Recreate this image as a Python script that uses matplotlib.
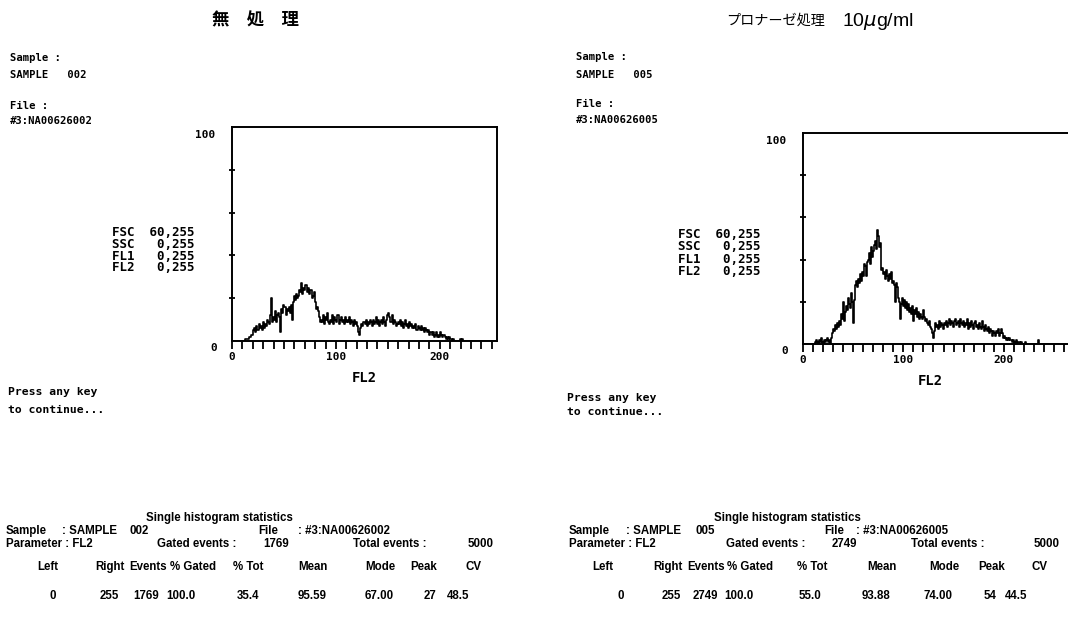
import numpy as np
import matplotlib
matplotlib.use("Agg")
import matplotlib.pyplot as plt

# ---------------- data ----------------
channels = np.arange(256)

# FL2 histogram counts per channel, untreated sample (SAMPLE 002)
counts_untreated = [
    0, 0, 0, 0, 0, 0, 0, 0, 0, 0, 0, 0, 0, 1, 1, 1,
    1, 2, 2, 3, 3, 5, 6, 4, 7, 5, 8, 6, 7, 5, 9, 6,
    8, 7, 10, 9, 8, 12, 20, 9, 11, 10, 14, 9, 12, 13, 11, 4,
    15, 13, 17, 16, 12, 15, 14, 16, 13, 17, 10, 18, 21, 19, 22, 20,
    21, 24, 23, 27, 22, 25, 24, 26, 26, 23, 25, 22, 24, 20, 21, 23,
    18, 15, 16, 14, 11, 9, 10, 9, 12, 8, 11, 10, 13, 9, 8, 10,
    9, 12, 8, 11, 10, 9, 12, 8, 10, 11, 9, 10, 8, 11, 9, 10,
    9, 11, 8, 10, 9, 7, 10, 8, 9, 7, 4, 3, 6, 8, 7, 9,
    8, 10, 7, 9, 8, 10, 9, 7, 10, 8, 9, 11, 8, 10, 7, 9,
    10, 8, 11, 9, 7, 10, 12, 13, 11, 9, 12, 8, 10, 9, 7, 8,
    9, 8, 10, 7, 9, 6, 8, 10, 7, 8, 6, 9, 7, 8, 6, 7,
    6, 8, 5, 7, 6, 5, 7, 5, 6, 4, 6, 5, 4, 5, 3, 4,
    4, 3, 4, 2, 3, 4, 2, 3, 2, 4, 3, 2, 3, 2, 1, 2,
    1, 2, 1, 1, 0, 1, 0, 0, 0, 0, 0, 0, 1, 0, 1, 0,
    0, 0, 0, 0, 0, 0, 0, 0, 0, 0, 0, 0, 0, 0, 0, 0,
    0, 0, 0, 0, 0, 0, 0, 0, 0, 0, 0, 0, 0, 0, 0, 0,
]

# FL2 histogram counts per channel, pronase 10 ug/ml (SAMPLE 005)
counts_pronase = [
    0, 0, 0, 0, 0, 0, 0, 0, 0, 0, 0, 0, 1, 2, 1, 0,
    2, 1, 3, 1, 0, 2, 1, 2, 3, 1, 2, 0, 3, 5, 7, 6,
    9, 7, 10, 8, 11, 9, 14, 12, 20, 11, 15, 18, 16, 22, 19, 17,
    24, 20, 10, 21, 28, 30, 27, 31, 29, 33, 30, 34, 32, 38, 37, 32,
    39, 40, 43, 38, 46, 41, 44, 47, 49, 45, 54, 51, 46, 48, 35, 36,
    33, 34, 31, 35, 32, 30, 33, 31, 34, 29, 30, 28, 20, 29, 27, 22,
    20, 12, 19, 22, 18, 21, 17, 20, 16, 19, 15, 17, 14, 18, 11, 16,
    14, 17, 13, 15, 12, 14, 13, 12, 16, 13, 11, 12, 10, 9, 11, 8,
    7, 5, 3, 6, 10, 8, 9, 7, 11, 8, 10, 9, 7, 10, 9, 11,
    8, 10, 12, 9, 11, 10, 8, 11, 12, 9, 10, 11, 8, 12, 10, 9,
    11, 8, 10, 9, 12, 7, 10, 8, 11, 9, 7, 10, 11, 8, 9, 7,
    10, 8, 7, 11, 8, 6, 9, 7, 6, 8, 5, 7, 6, 4, 6, 5,
    4, 6, 5, 7, 4, 5, 7, 5, 3, 4, 3, 2, 3, 2, 3, 2,
    2, 1, 2, 0, 1, 2, 0, 1, 1, 0, 1, 0, 0, 0, 1, 0,
    0, 0, 0, 0, 0, 0, 0, 0, 0, 0, 0, 2, 0, 0, 0, 0,
    0, 0, 0, 0, 0, 0, 0, 0, 0, 0, 0, 0, 0, 0, 0, 0,
]

sample_names = ["SAMPLE   002", "SAMPLE   005"]
sample_ids = ["002", "005"]
file_names = ["#3:NA00626002", "#3:NA00626005"]
gate_lines = ["FSC  60,255", "SSC   0,255", "FL1   0,255", "FL2   0,255"]

stat_headers = ["Left", "Right", "Events", "% Gated", "% Tot", "Mean", "Mode", "Peak", "CV"]
stats_untreated = ["0", "255", "1769", "100.0", "35.4", "95.59", "67.00", "27", "48.5"]
stats_pronase = ["0", "255", "2749", "100.0", "55.0", "93.88", "74.00", "54", "44.5"]
gated_events = ["1769", "2749"]
total_events = ["5000", "5000"]

# ---------------- figure ----------------
W, H = 1068, 621
fig = plt.figure(figsize=(W / 100, H / 100), dpi=100)
fig.patch.set_facecolor("white")

MONO = "DejaVu Sans Mono"
SANS = "Liberation Sans"
CJK = ["Noto Sans CJK JP", "DejaVu Sans"]


def ftext(x, y, s, **kw):
    """Place text using pixel coordinates measured from the top-left corner."""
    kw.setdefault("va", "center")
    kw.setdefault("ha", "left")
    kw.setdefault("color", "black")
    return fig.text(x / W, 1 - y / H, s, **kw)


def histogram_panel(rect_px, xmax, counts):
    x0, y0, x1, y1 = rect_px
    ax = fig.add_axes([x0 / W, 1 - y1 / H, (x1 - x0) / W, (y1 - y0) / H])
    ax.step(channels, counts, where="mid", color="black", lw=1.2)
    ax.set_xlim(0, xmax)
    ax.set_ylim(0, 100)
    for sp in ax.spines.values():
        sp.set_linewidth(1.4)
    ticks = np.arange(0, xmax + 1, 10)
    ax.set_xticks(ticks)
    ax.set_xticklabels([str(t) if t in (0, 100, 200) else "" for t in ticks],
                       family=MONO, fontweight="bold", fontsize=8)
    ax.tick_params(axis="x", direction="out", length=6, width=1.3, pad=2)
    ax.set_yticks([20, 40, 60, 80])
    ax.set_yticklabels([])
    ax.tick_params(axis="y", direction="inout", length=5, width=1.3)
    ax.annotate("100", xy=(0, 100), xycoords="data", xytext=(-17, -8),
                textcoords="offset pixels", ha="right", va="center",
                family=MONO, fontweight="bold", fontsize=8)
    ax.annotate("0", xy=(0, 0), xycoords="data", xytext=(-15, -7),
                textcoords="offset pixels", ha="right", va="center",
                family=MONO, fontweight="bold", fontsize=8)
    ax.text(127, -0.175, "FL2", transform=ax.get_xaxis_transform(), ha="center",
            va="center", family=MONO, fontweight="bold", fontsize=10)
    return ax


histogram_panel((232, 127, 497, 341), 255, counts_untreated)
histogram_panel((803, 133, 1069, 344), 265, counts_pronase)

# ---------------- titles ----------------
ftext(255, 20, "無　処　理", ha="center", family=CJK, fontsize=12.5, fontweight="bold")
ftext(726, 21, "プロナーゼ処理", family=CJK, fontsize=10.2)
ftext(842, 21, r"10$\mu$g/ml", family=SANS, fontsize=14)

# ---------------- side information ----------------
info = dict(family=MONO, fontweight="bold", fontsize=7.6)
for i, (xl, ys) in enumerate([(10, (58, 75, 106, 121)), (576, (57, 75, 104, 120))]):
    ftext(xl, ys[0], "Sample :", **info)
    ftext(xl, ys[1], sample_names[i], **info)
    ftext(xl, ys[2], "File :", **info)
    ftext(xl, ys[3], file_names[i], **info)

gate = dict(family=MONO, fontweight="bold", fontsize=9)
for xg, yg in [(112, (233, 244, 256, 268)), (678, (234, 247, 259, 272))]:
    for line, yy in zip(gate_lines, yg):
        ftext(xg, yy, line, **gate)

press = dict(family=MONO, fontweight="bold", fontsize=8.2)
for xp, yp in [(8, (392, 410)), (567, (398, 412))]:
    ftext(xp, yp[0], "Press any key", **press)
    ftext(xp, yp[1], "to continue...", **press)

# ---------------- statistics tables ----------------
tab = dict(family=SANS, fontweight="bold", fontsize=8.3)
tables = [
    dict(title_x=146, rows=(518, 531, 544, 567, 596),
         head_x=[37, 95, 129, 170, 233, 298, 365, 410, 465],
         val_x=[50, 100, 133, 166, 237, 298, 365, 424, 447],
         values=stats_untreated, idx=0,
         sample_pos=(6, 62, 130), file_pos=(258, 298),
         param_pos=(6, 157, 263, 353, 468)),
    dict(title_x=714, rows=(518, 531, 544, 567, 596),
         head_x=[592, 653, 687, 727, 797, 867, 929, 978, 1031],
         val_x=[617, 662, 693, 724, 799, 862, 924, 984, 1005],
         values=stats_pronase, idx=1,
         sample_pos=(569, 626, 696), file_pos=(824, 856),
         param_pos=(569, 726, 832, 911, 1034)),
]
for t in tables:
    r = t["rows"]
    i = t["idx"]
    ftext(t["title_x"], r[0], "Single histogram statistics", **tab)
    sp = t["sample_pos"]
    ftext(sp[0], r[1], "Sample", **tab)
    ftext(sp[1], r[1], ": SAMPLE", **tab)
    ftext(sp[2], r[1], sample_ids[i], **tab)
    fp = t["file_pos"]
    ftext(fp[0], r[1], "File", **tab)
    ftext(fp[1], r[1], ": " + file_names[i], **tab)
    pp = t["param_pos"]
    ftext(pp[0], r[2], "Parameter : FL2", **tab)
    ftext(pp[1], r[2], "Gated events :", **tab)
    ftext(pp[2], r[2], gated_events[i], **tab)
    ftext(pp[3], r[2], "Total events :", **tab)
    ftext(pp[4], r[2], total_events[i], **tab)
    for hx, h in zip(t["head_x"], stat_headers):
        ftext(hx, r[3], h, **tab)
    for vx, v in zip(t["val_x"], t["values"]):
        ftext(vx, r[4], v, **tab)

fig.savefig("out.png", dpi=100, facecolor="white")
